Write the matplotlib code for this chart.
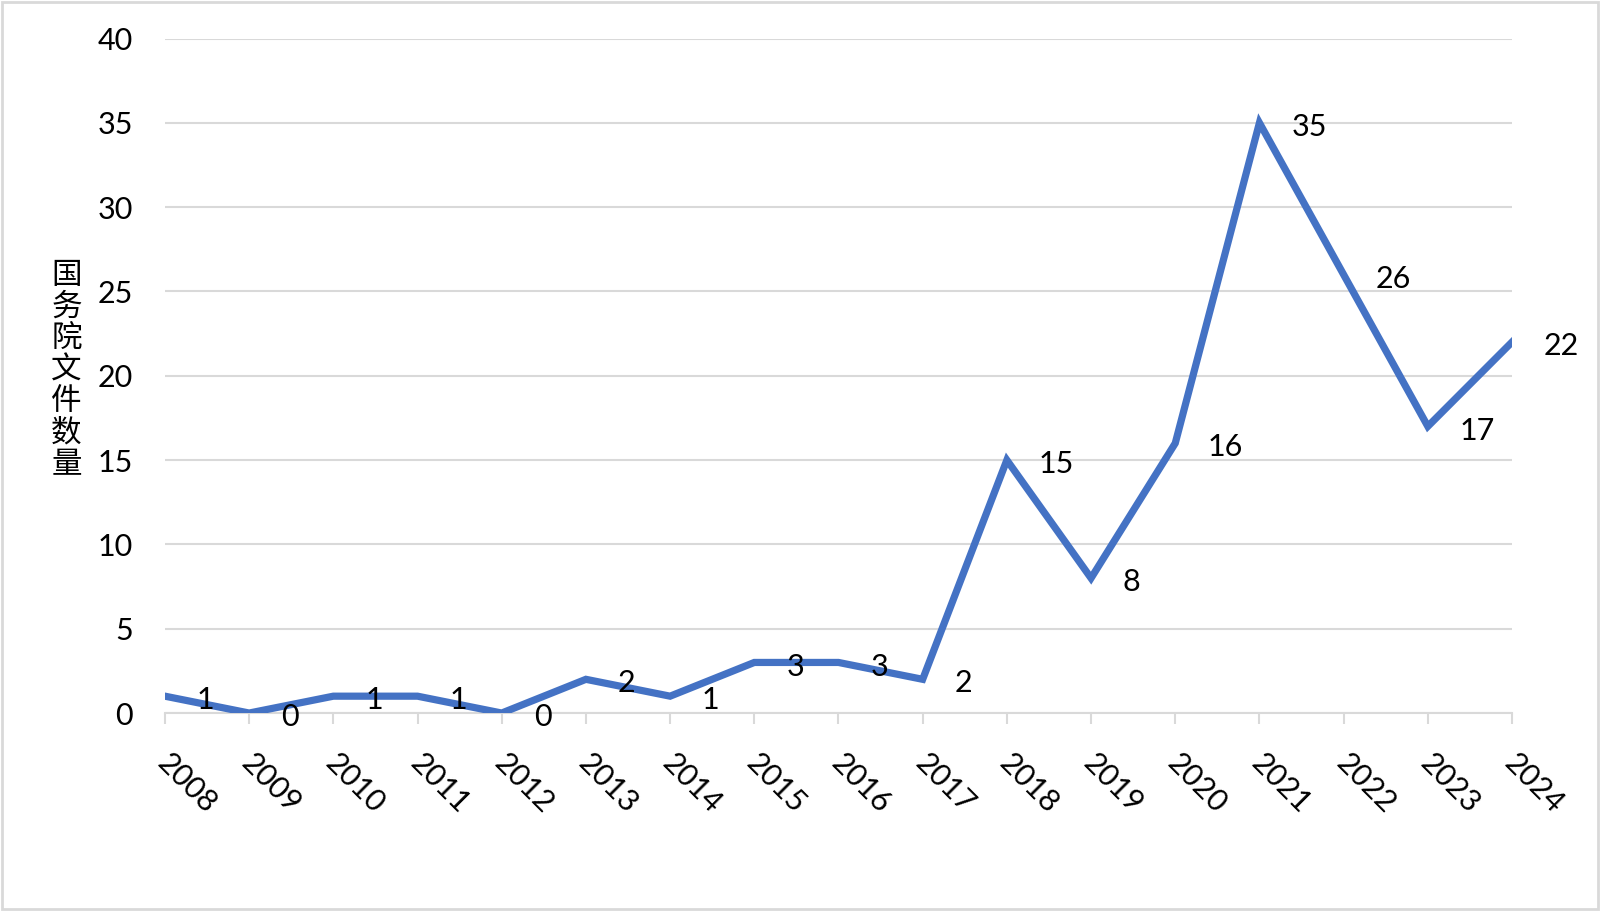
import matplotlib.pyplot as plt
from matplotlib.patches import Rectangle

# data
years = ['2008', '2009', '2010', '2011', '2012', '2013', '2014', '2015', '2016',
         '2017', '2018', '2019', '2020', '2021', '2022', '2023', '2024']
counts = [1, 0, 1, 1, 0, 2, 1, 3, 3, 2, 15, 8, 16, 35, 26, 17, 22]
y_label = '国务院文件数量'

plt.rcParams['font.family'] = ['Lato', 'Noto Sans CJK SC', 'DejaVu Sans']

fig = plt.figure(figsize=(16, 9.11), dpi=100)
ax = fig.add_axes([0.1031, 0.2173, 0.945 - 0.1031, 0.9577 - 0.2173])

grid_color = '#D9D9D9'
line_color = '#4472C4'

x = list(range(len(years)))
ax.plot(x, counts, color=line_color, linewidth=5.2, solid_joinstyle='miter', zorder=3)

for xi, v in zip(x, counts):
    ax.annotate(str(v), (xi, v), xytext=(23, -3), textcoords='offset points',
                ha='left', va='center', fontsize=22, color='black', zorder=4)

ax.set_xlim(0, len(years) - 1)
ax.set_ylim(0, 40)
ax.set_yticks(range(0, 41, 5))
ax.set_xticks(x)
ax.set_xticklabels([])

# slanted year labels, placed a little right of each tick
for xi, yr in zip(x, years):
    ax.annotate(yr, (xi, 0), xycoords=('data', 'axes fraction'),
                xytext=(5, -26), textcoords='offset points',
                rotation=-45, rotation_mode='anchor', ha='left', va='top',
                fontsize=22, annotation_clip=False)

ax.grid(axis='y', color=grid_color, linewidth=1.5, zorder=0)
ax.set_axisbelow(True)
for side in ['top', 'right', 'left']:
    ax.spines[side].set_visible(False)
ax.spines['bottom'].set_color(grid_color)
ax.spines['bottom'].set_linewidth(1.5)

ax.tick_params(axis='y', length=0, pad=23, labelsize=22)
ax.tick_params(axis='x', length=8, width=1.5, color=grid_color)

fig.text(0.0415, 0.594, '\n'.join(y_label), ha='center', va='center',
         fontsize=22, family=['Noto Sans CJK SC', 'DejaVu Sans'], linespacing=1.02)

# light frame round the whole chart
fig.patches.append(Rectangle((0.0015, 0.002), 0.997, 0.996, transform=fig.transFigure,
                             fill=False, edgecolor=grid_color, linewidth=2))

fig.savefig('out.png', dpi=100)
